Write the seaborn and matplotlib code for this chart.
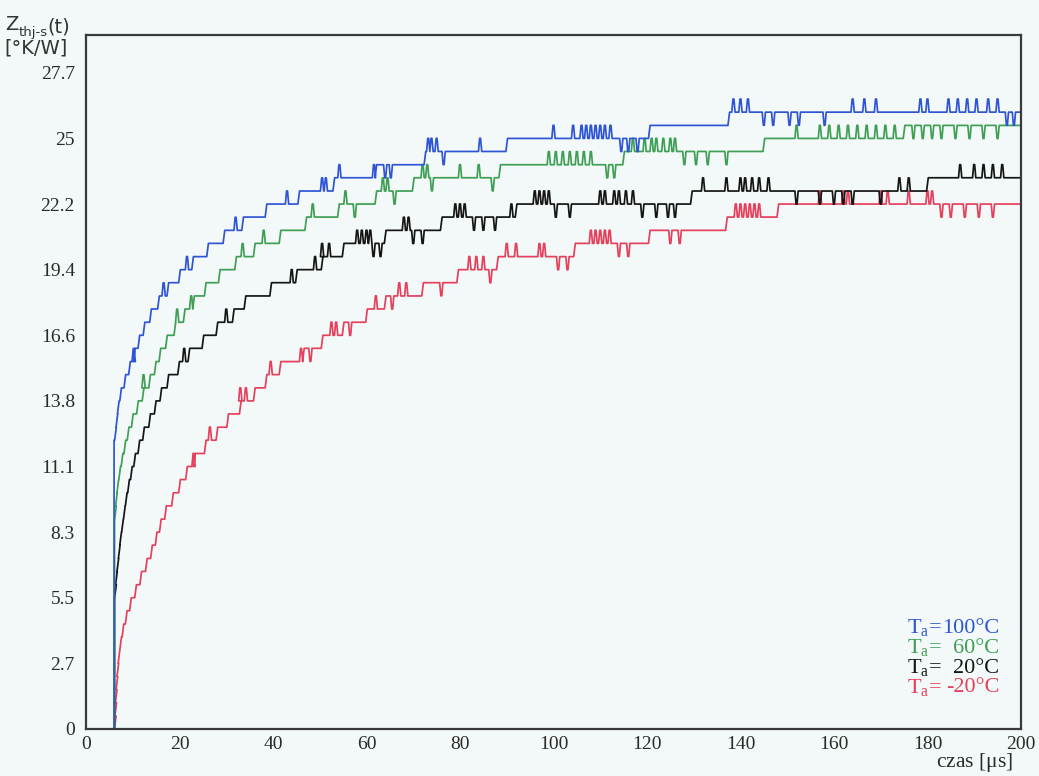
import numpy as np
import pandas as pd
import matplotlib
matplotlib.use("Agg")
import matplotlib.pyplot as plt
import seaborn as sns

# Transient thermal impedance Z_th(j-s)(t) for four ambient temperatures.
# The readout is quantised: one count of the converter equals 27.7/50 K/W.
QUANTUM = 27.7 / 50

# ---- Ta = 100 °C -------------------------------------------------------
t100_start = 6.0
z100_start = 12.19
t100_steps = [6.3, 6.6, 6.9, 7.4, 8.3, 9.3, 10.3, 11.3, 12.4, 13.8, 15.5, 17.5,
              20.0, 22.8, 26.0, 29.5, 33.5, 38.5, 45.5, 53.0, 62.0, 72.5, 90.0,
              120.5, 137.5]
z100_steps = [12.74, 13.30, 13.85, 14.40, 14.96, 15.51, 16.07, 16.62, 17.17,
              17.73, 18.28, 18.84, 19.39, 19.94, 20.50, 21.05, 21.61, 22.16,
              22.71, 23.27, 23.82, 24.38, 24.93, 25.48, 26.04]
t100_up = [10.2, 16.6, 21.6, 32.0, 43.0, 50.5, 51.3, 54.2, 61.6, 73.2, 73.9,
           75.0, 84.3, 100.0, 104.2, 106.0, 107.0, 108.0, 109.0, 110.0, 111.0,
           112.2, 138.5, 140.0, 141.6, 164.0, 166.5, 169.0, 178.5, 180.0,
           184.5, 186.5, 188.5, 190.5, 193.0, 195.0]
t100_down = [64.0, 65.2, 76.5, 114.5, 116.0, 118.0, 145.0, 147.0, 150.5,
             152.5, 158.0, 197.0, 198.5]

# ---- Ta = 60 °C --------------------------------------------------------
t60_start = 6.1
z60_start = 8.86
t60_steps = [6.3, 6.5, 6.8, 7.2, 7.7, 8.3, 9.0, 9.9, 11.0, 12.2, 13.6, 14.8,
             15.8, 17.2, 19.0, 21.0, 23.0, 25.5, 28.5, 32.0, 36.0, 41.5, 47.0,
             54.0, 62.0, 70.0, 88.5, 115.0, 145.0, 175.0]
z60_steps = [9.42, 9.97, 10.53, 11.08, 11.63, 12.19, 12.74, 13.30, 13.85,
             14.40, 14.96, 15.51, 16.07, 16.62, 17.17, 17.73, 18.28, 18.84,
             19.39, 19.94, 20.50, 21.05, 21.61, 22.16, 22.71, 23.27, 23.82,
             24.38, 24.93, 25.48]
t60_up = [12.3, 19.5, 22.5, 33.5, 38.0, 48.5, 55.5, 63.5, 64.5, 72.0, 73.0,
          80.0, 84.0, 99.0, 100.5, 102.0, 103.5, 105.0, 106.5, 108.0, 117.0,
          119.5, 121.0, 122.0, 123.5, 125.0, 126.0, 152.0, 157.0, 159.0,
          161.0, 163.0, 165.0, 167.0, 169.0, 171.0, 173.0]
t60_down = [57.5, 66.0, 74.0, 87.0, 111.5, 113.0, 128.0, 130.5, 133.0, 137.0,
            177.0, 179.0, 181.0, 183.0, 186.0, 189.0, 192.0, 195.0]

# ---- Ta = 20 °C --------------------------------------------------------
t20_start = 6.1
z20_start = 5.54
t20_steps = [6.3, 6.5, 6.8, 7.1, 7.4, 7.8, 8.2, 8.6, 9.1, 9.7, 10.4, 11.3,
             12.3, 13.6, 14.8, 16.0, 17.5, 19.8, 22.0, 25.0, 28.0, 31.5, 34.0,
             39.5, 45.0, 50.5, 55.0, 64.0, 76.0, 92.0, 129.5, 180.0]
z20_steps = [6.09, 6.65, 7.20, 7.76, 8.31, 8.86, 9.42, 9.97, 10.53, 11.08,
             11.63, 12.19, 12.74, 13.30, 13.85, 14.40, 14.96, 15.51, 16.07,
             16.62, 17.17, 17.73, 18.28, 18.84, 19.39, 19.94, 20.50, 21.05,
             21.61, 22.16, 22.71, 23.27]
t20_up = [21.0, 30.0, 44.0, 49.0, 50.5, 52.0, 58.0, 59.0, 60.0, 60.8, 68.0,
          69.0, 79.0, 80.0, 81.0, 91.0, 96.0, 97.0, 98.0, 99.0, 110.0, 111.0,
          113.0, 114.0, 115.5, 117.0, 132.0, 137.0, 140.0, 141.0, 142.5,
          144.0, 146.0, 174.0, 176.0, 187.0, 190.0, 192.0, 194.0, 196.0]
t20_down = [61.5, 63.0, 70.0, 72.0, 83.0, 85.0, 87.5, 100.5, 103.5, 119.0,
            122.0, 124.5, 126.0, 152.0, 157.0, 160.0, 162.0, 164.0, 170.0]

# ---- Ta = -20 °C -------------------------------------------------------
tm20_start = 6.2
zm20_start = 0.0
tm20_steps = [6.25, 6.35, 6.45, 6.6, 6.8, 7.05, 7.4, 7.9, 8.6, 9.5, 10.6,
              11.7, 12.9, 14.0, 15.0, 15.9, 17.0, 18.5, 20.0, 21.5, 23.2,
              25.5, 28.0, 30.3, 33.0, 36.0, 38.5, 41.5, 46.5, 50.5, 55.0,
              60.0, 64.0, 72.0, 79.5, 88.0, 104.5, 120.5, 137.0, 148.0]
zm20_steps = [0.55, 1.11, 1.66, 2.22, 2.77, 3.32, 3.88, 4.43, 4.99, 5.54,
              6.09, 6.65, 7.20, 7.76, 8.31, 8.86, 9.42, 9.97, 10.53, 11.08,
              11.63, 12.19, 12.74, 13.30, 13.85, 14.40, 14.96, 15.51, 16.07,
              16.62, 17.17, 17.73, 18.28, 18.84, 19.39, 19.94, 20.50, 21.05,
              21.61, 22.16]
tm20_up = [23.0, 26.5, 33.0, 34.2, 39.5, 46.0, 52.5, 53.5, 62.0, 67.0, 68.5,
           82.0, 83.5, 85.0, 90.0, 92.0, 97.0, 98.0, 108.0, 109.0, 110.0,
           111.0, 112.0, 139.0, 140.0, 141.0, 142.0, 143.0, 144.0, 157.0,
           162.0, 163.0, 170.0, 171.5, 176.0, 180.0, 181.0]
tm20_down = [48.0, 56.5, 65.5, 76.0, 86.5, 101.0, 103.0, 114.0, 116.0,
             125.0, 127.0, 183.0, 185.0, 188.0, 191.0, 194.0]

legend_labels = ["100", "60", "20", "-20"]
colors = ["#2f55d4", "#3f9f55", "#151515", "#e5405c"]

RAMP = 0.18     # half-width of a level transition, µs
BLIP = 0.35     # half-width of a one-count glitch, µs


def trace(t0, z0, ts, zs, ups, downs):
    """Vertices of a quantised record: staircase plus one-count blips."""
    events = [(t, "s", z) for t, z in zip(ts, zs)]
    events += [(t, "u", QUANTUM) for t in ups]
    events += [(t, "d", -QUANTUM) for t in downs]
    events.sort(key=lambda e: e[0])
    xs, ys = [t0, t0], [0.0, z0]
    level = z0
    for t, kind, val in events:
        if kind == "s":
            xs += [t - RAMP, t + RAMP]
            ys += [level, val]
            level = val
        else:
            xs += [t - BLIP, t - 0.1, t + 0.1, t + BLIP]
            ys += [level, level + val, level + val, level]
    xs.append(200.0)
    ys.append(level)
    return xs, ys


curves = [
    (t100_start, z100_start, t100_steps, z100_steps, t100_up, t100_down),
    (t60_start, z60_start, t60_steps, z60_steps, t60_up, t60_down),
    (t20_start, z20_start, t20_steps, z20_steps, t20_up, t20_down),
    (tm20_start, zm20_start, tm20_steps, zm20_steps, tm20_up, tm20_down),
]

frames = []
for lab, spec in zip(legend_labels, curves):
    xs, ys = trace(*spec)
    frames.append(pd.DataFrame({"t": xs, "z": ys, "Ta": lab}))
data = pd.concat(frames, ignore_index=True)

sns.set_theme(style="white")
plt.rcParams["font.family"] = ["Liberation Serif", "DejaVu Serif"]

bg = "#f3f9f8"
fig = plt.figure(figsize=(10.39, 7.76), dpi=100, facecolor=bg)
ax = fig.add_axes([0.0828, 0.0606, 0.8998, 0.8944], facecolor=bg)

# coldest record drawn first so the hot curves sit on top at the common start
draw_order = legend_labels[::-1]
sns.lineplot(data=data, x="t", y="z", hue="Ta",
             palette=dict(zip(legend_labels, colors)),
             hue_order=draw_order, units="Ta", estimator=None, sort=False,
             linewidth=1.25, legend=False, ax=ax)

ax.set_xlim(0, 200)
ax.set_ylim(0, 29.3)
yt = [0, 2.77, 5.54, 8.31, 11.08, 13.85, 16.62, 19.39, 22.16, 24.93, 27.7]
ylab = ["0", "2.7", "5.5", "8.3", "11.1", "13.8", "16.6", "19.4", "22.2",
        "25", "27.7"]
ax.set_yticks(yt)
ax.set_yticklabels(ylab)
xt = list(range(0, 201, 20))
ax.set_xticks(xt)
ax.set_xticklabels([str(v) for v in xt])
ax.tick_params(axis="both", direction="in", length=7, width=1.2,
               colors="#333333", labelsize=14, labelcolor="#2a2a2a")
ax.tick_params(axis="y", pad=8)
ax.tick_params(axis="x", pad=5)
ax.set_xlabel("")
ax.set_ylabel("")
for s in ax.spines.values():
    s.set_color("#3a3a3a")
    s.set_linewidth(1.6)
    s.set_visible(True)

# axis title in the upper-left corner: Z with subscript th j-s, then units
zt = fig.text(0.005, 0.969, "Z", family="DejaVu Sans", fontsize=14,
              color="#333333", ha="left", va="center")
sub = ax.annotate("thj-s", xy=(1.0, 0.05), xycoords=zt, family="DejaVu Sans",
                  fontsize=9.5, color="#333333", ha="left", va="center",
                  annotation_clip=False)
ax.annotate("(t)", xy=(1.0, 0.5), xycoords=sub, xytext=(0, 4),
            textcoords="offset points", family="DejaVu Sans", fontsize=14,
            color="#333333", ha="left", va="center", annotation_clip=False)
fig.text(0.004, 0.938, "[°K/W]", family="DejaVu Sans", fontsize=14,
         color="#333333", ha="left", va="center")
fig.text(0.975, 0.017, r"czas [$\mathregular{\mu}$s]", fontsize=15.5,
         color="#2a2a2a", ha="right", va="center")

for i, (lab, c) in enumerate(zip(legend_labels, colors)):
    y = 0.190 - i * 0.0255
    fig.text(0.9065, y, r"T$_\mathregular{a}$=", fontsize=16, color=c,
             ha="right", va="center")
    fig.text(0.962, y, f"{lab}°C", fontsize=16, color=c, ha="right",
             va="center")

fig.savefig("out.png", dpi=100, facecolor=bg)
